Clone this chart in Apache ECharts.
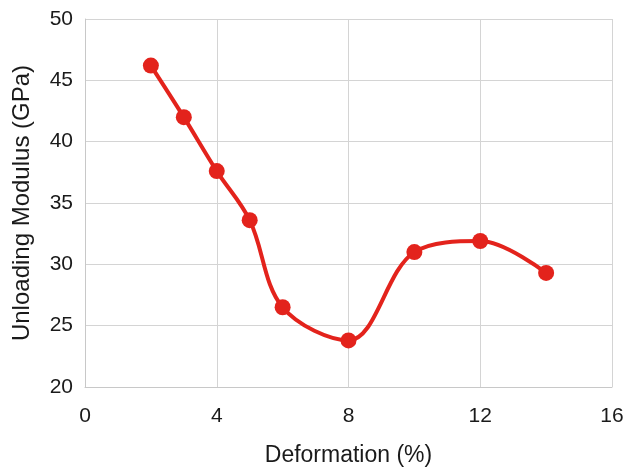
<!DOCTYPE html>
<html>
<head>
<meta charset="utf-8">
<script src="https://cdn.jsdelivr.net/npm/echarts@6/dist/echarts.min.js"></script>
<style>html,body{margin:0;padding:0;background:#fff;}#c{width:627px;height:475px;}</style>
</head>
<body>
<div id="c"></div>
<script>
const deformation = [2, 3, 4, 5, 6, 8, 10, 12, 14];
const modulus = [46.2, 42.0, 37.6, 33.6, 26.5, 23.8, 31.0, 31.9, 29.3];
const xTicks = [0, 4, 8, 12, 16];
const yTicks = [20, 25, 30, 35, 40, 45, 50];

const chart = echarts.init(document.getElementById('c'));
const font = '"Liberation Sans", Arial, Helvetica, sans-serif';
chart.setOption({
  animation: false,
  backgroundColor: '#fff',
  grid: { left: 85, right: 15, top: 19, bottom: 88 },
  xAxis: {
    type: 'value', min: xTicks[0], max: xTicks[xTicks.length - 1], interval: 4,
    name: 'Deformation (%)', nameLocation: 'middle', nameGap: 57,
    nameTextStyle: { fontFamily: font, fontSize: 23, color: '#1a1a1a' },
    axisLine: { show: true, lineStyle: { color: '#c8c8c8', width: 1 } },
    axisTick: { show: false },
    axisLabel: { fontFamily: font, fontSize: 21, color: '#1a1a1a', margin: 19 },
    splitLine: { show: true, lineStyle: { color: '#d4d4d4', width: 1 } }
  },
  yAxis: {
    type: 'value', min: yTicks[0], max: yTicks[yTicks.length - 1], interval: 5,
    name: 'Unloading Modulus (GPa)', nameLocation: 'middle', nameGap: 51,
    nameTextStyle: { fontFamily: font, fontSize: 24, color: '#1a1a1a' },
    axisLine: { show: true, lineStyle: { color: '#c8c8c8', width: 1 } },
    axisTick: { show: false },
    axisLabel: { fontFamily: font, fontSize: 21, color: '#1a1a1a', margin: 12 },
    splitLine: { show: true, lineStyle: { color: '#d4d4d4', width: 1 } }
  },
  series: [{
    type: 'line',
    data: deformation.map((x, i) => [x, modulus[i]]),
    smooth: 0.35,
    symbol: 'circle', symbolSize: 16,
    lineStyle: { color: '#e3231c', width: 4 },
    itemStyle: { color: '#e3231c' }
  }]
});
</script>
</body>
</html>
